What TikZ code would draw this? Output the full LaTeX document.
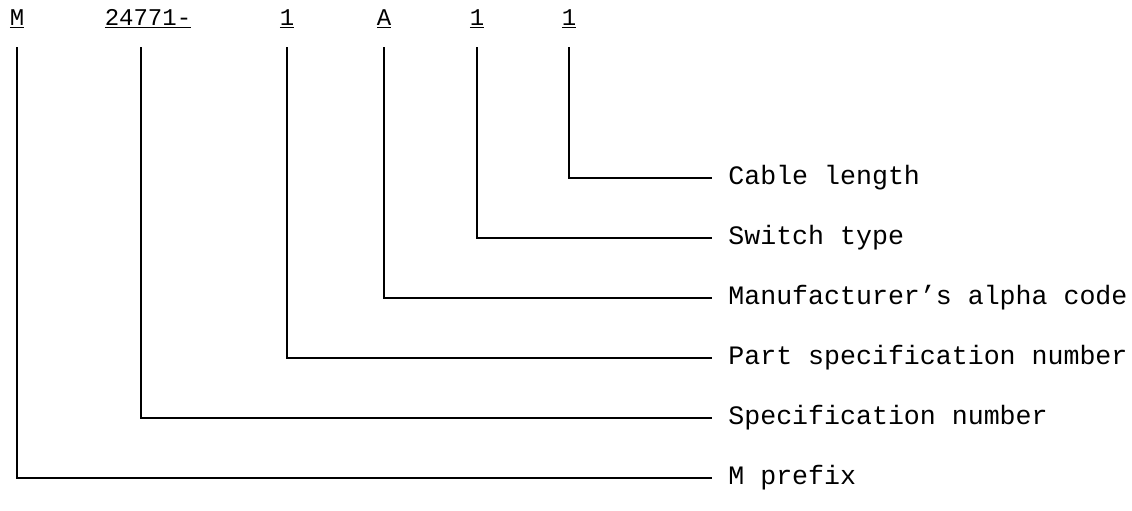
\documentclass[tikz,border=0pt]{standalone}
\usepackage{fontspec}
\setmainfont{Liberation Mono}
\usepackage{tikz}
\usetikzlibrary{positioning}

\begin{document}
\begin{tikzpicture}[
    x=0.5pt, y=-0.5pt,
    node distance=30pt,
    code/.style={anchor=base, inner xsep=0pt, inner ysep=9pt, font=\fontsize{12}{14}\selectfont},
    lbl/.style={anchor=west, inner xsep=8pt, inner ysep=0pt, font=\fontsize{13.3}{16}\selectfont},
    lead/.style={line width=1.1pt}
]
\useasboundingbox (0,0) rectangle (1132,510);

% part number along the top
\node[code] (pre)  at (17,25)  {\underline{M}};
\node[code] (spec) at (148,25) {\underline{24771-}};
\node[code] (part) at (287,25) {\underline{1}};
\node[code] (mfr)  at (384,25) {\underline{A}};
\node[code] (sw)   at (477,25) {\underline{1}};
\node[code] (cab)  at (569,25) {\underline{1}};

% labels on the right
\node[lbl] (cable) at (712,178) {Cable length};
\node[lbl, below=of cable.west, anchor=west] (switch) {Switch type};
\node[lbl, below=of switch.west, anchor=west] (alpha) {Manufacturer's alpha code};
\node[lbl, below=of alpha.west, anchor=west] (pspec) {Part specification number};
\node[lbl, below=of pspec.west, anchor=west] (snum) {Specification number};
\node[lbl, below=of snum.west, anchor=west] (mpre) {M prefix};

\draw[lead] (cab.south) |- (cable.west);
\draw[lead] (sw.south) |- (switch.west);
\draw[lead] (mfr.south) |- (alpha.west);
\draw[lead] (part.south) |- (pspec.west);
\draw[lead] ([xshift=-3.5pt]spec.south) |- (snum.west);
\draw[lead] (pre.south) |- (mpre.west);
\end{tikzpicture}
\end{document}
